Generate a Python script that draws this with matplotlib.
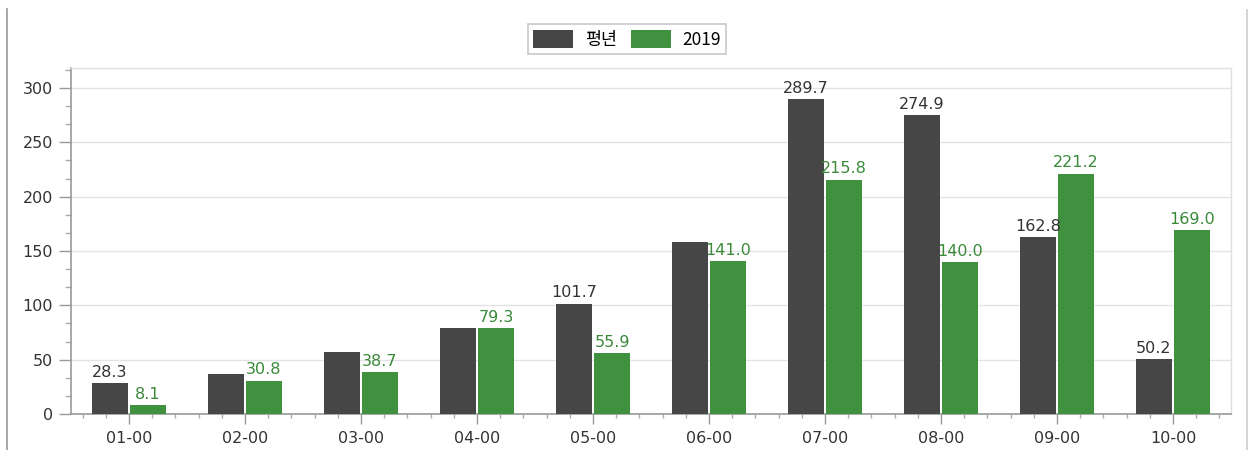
import numpy as np
import matplotlib
matplotlib.use("Agg")
import matplotlib.pyplot as plt
from matplotlib.lines import Line2D
from matplotlib.ticker import MultipleLocator

plt.rcParams['font.family'] = ['DejaVu Sans', 'Noto Sans CJK KR']

categories = ['01-00', '02-00', '03-00', '04-00', '05-00',
              '06-00', '07-00', '08-00', '09-00', '10-00']
normal_vals = [28.3, 36.5, 56.7, 78.8, 101.7, 158.6, 289.7, 274.9, 162.8, 50.2]
y2019_vals = [8.1, 30.8, 38.7, 79.3, 55.9, 141.0, 215.8, 140.0, 221.2, 169.0]
# labels the source chart hides because they overlap
normal_hidden = [1, 2, 3, 5]
series_names = ['평년', '2019']

dark = '#464646'
green = '#3f9140'

fig = plt.figure(figsize=(12.49, 4.5), dpi=100)
ax = fig.add_axes([0.0568, 0.08, 0.9288, 0.769])

x = np.arange(len(categories))
w = 0.31
off = 0.164
b1 = ax.bar(x - off, normal_vals, w, color=dark, label=series_names[0], zorder=3)
b2 = ax.bar(x + off, y2019_vals, w, color=green, label=series_names[1], zorder=3)

for i, v in enumerate(normal_vals):
    if i in normal_hidden:
        continue
    ax.text(x[i] - off, v + 3, f'{v:.1f}', ha='center', va='bottom',
            fontsize=11.5, color='#333333', zorder=4)
for i, v in enumerate(y2019_vals):
    ax.text(x[i] + off, v + 3, f'{v:.1f}', ha='center', va='bottom',
            fontsize=11.5, color='#3a8a3a', zorder=4)

ax.set_xlim(-0.5, len(categories) - 0.5)
ax.set_ylim(0, 318.5)
ax.set_xticks(x)
ax.set_xticklabels(categories)
ax.xaxis.set_minor_locator(MultipleLocator(0.2))
ax.yaxis.set_major_locator(MultipleLocator(50))
ax.yaxis.set_minor_locator(MultipleLocator(50 / 3))

ax.tick_params(axis='both', which='major', labelsize=11.5, colors='#333333')
ax.tick_params(axis='y', which='major', length=9, width=1, color='#999999', pad=4)
ax.tick_params(axis='y', which='minor', length=4, width=1, color='#aaaaaa')
ax.tick_params(axis='x', which='major', length=7, width=1, color='#999999', pad=5)
ax.tick_params(axis='x', which='minor', length=3, width=1, color='#aaaaaa')

ax.grid(axis='y', which='major', color='#e3e3e3', linewidth=1, zorder=0)
ax.set_axisbelow(True)
for s in ['left', 'bottom']:
    ax.spines[s].set_color('#999999')
    ax.spines[s].set_linewidth(1.2)
for s in ['top', 'right']:
    ax.spines[s].set_color('#e0e0e0')
    ax.spines[s].set_linewidth(1)

leg = fig.legend(handles=[b1, b2], labels=series_names, loc='center',
                 bbox_to_anchor=(0.502, 0.913), ncol=2, frameon=True,
                 fancybox=False, edgecolor='#bbbbbb',
                 handlelength=2.3, handleheight=1.3, handletextpad=0.7,
                 columnspacing=0.8, borderpad=0.3,
                 prop={'family': ['Noto Sans CJK KR', 'DejaVu Sans'], 'size': 12.5})
leg.get_frame().set_linewidth(1.2)

# outer frame lines of the original widget
fig.add_artist(Line2D([0.0056, 0.0056], [0.0, 0.98], color='#999999', linewidth=1.2))
fig.add_artist(Line2D([0.9985, 0.9985], [0.0, 0.978], color='#cccccc', linewidth=1.2))

fig.savefig('out.png', dpi=100)
